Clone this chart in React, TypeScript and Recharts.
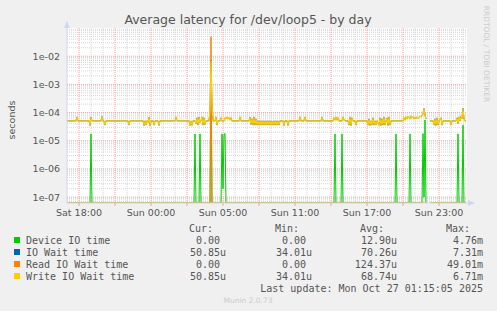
import React from "react";
import { LineChart, Line, XAxis, YAxis, CartesianGrid, ReferenceLine } from "recharts";

// x = 5-minute slot, slot 0 is the left edge of the graph (Sat 17:00), 400 slots wide
const xTickSlots = [12, 48, 84, 120, 156, 192, 228, 264, 300, 336, 372];
const xTickLabels = ["Sat 18:00", "", "Sun 00:00", "", "Sun 05:00", "", "Sun 11:00", "", "Sun 17:00", "", "Sun 23:00"];
const yTicks = [1e-7, 1e-6, 1e-5, 1e-4, 1e-3, 1e-2];
const yDomain = [6.2e-8, 0.1];

const B = 5.09e-5; // steady write wait level

// [slot, seconds]  (null = no data)
const deviceIoTime: [number, number | null][] = [
  [0, 0], [23, 0], [24, 1.75e-5], [25, 0],
  [127, 0], [128, 1.75e-5], [129, 0],
  [132, 0], [133, 1.75e-5], [134, 0],
  [143, 0], [144, 4.76e-3], [145, 0],
  [154, 0], [155, 1.75e-5], [156, 2e-7], [157, 1.7e-5], [158, 1.8e-5], [159, 0],
  [267, 0], [268, 1.75e-5], [269, 0],
  [274, 0], [275, 1.75e-5], [276, 0],
  [328, 0], [329, 1.75e-5], [330, 0],
  [342, 0], [343, 1.75e-5], [344, 0],
  [355, 0], [356, 1.8e-5], [357, 1e-7], [358, 5.5e-5], [359, 0],
  [360, null], [362, null],
  [363, 0], [390, 0], [391, 1.75e-5], [392, 0],
  [395, 0], [396, 3.6e-5], [397, 0], [399, 0],
];

const readIoWaitTime: [number, number | null][] = [
  [0, 0], [143, 0], [144, 4.901e-2], [145, 0], [359, 0],
  [360, null], [362, null],
  [363, 0], [399, 0],
];

const writeIoWaitTime: [number, number | null][] = [
  [0, B], [9, B], [10, 7.0e-5], [11, B],
  [22, B], [23, 3.5e-5], [24, 6.8e-5], [25, B],
  [34, B], [35, 7.2e-5], [36, B], [37, 5.0e-5], [38, 3.6e-5], [39, B],
  [61, B], [62, 3.6e-5], [63, B],
  [76, B], [77, 3.5e-5], [78, B], [79, 3.6e-5], [80, B], [81, 4.5e-5], [82, 6.8e-5], [83, 3.5e-5], [84, B], [86, B], [87, 3.6e-5], [88, B],
  [91, B], [92, 3.5e-5], [93, B],
  [108, B], [109, 6.8e-5], [110, B],
  [122, B], [123, 3.5e-5], [124, 4.8e-5], [125, 3.6e-5], [126, B],
  [128, B], [129, 4.0e-5], [130, 6.5e-5], [131, 3.6e-5], [132, 6.8e-5], [133, 4.5e-5], [134, B], [135, 7.0e-5], [136, 3.6e-5], [137, 6.5e-5], [138, 3.8e-5], [139, B],
  [142, B], [143, 1.2e-4], [144, 6.71e-3], [145, 2.0e-4], [146, B],
  [148, B], [149, 7.0e-5], [150, 3.6e-5], [151, B],
  [153, B], [154, 6.5e-5], [155, B],
  [157, B], [158, 6.5e-5], [159, 6.0e-5], [160, 6.8e-5], [161, 6.0e-5], [162, 6.5e-5], [163, 5.5e-5], [164, 6.5e-5], [165, B],
  [172, B], [173, 6.8e-5], [174, B],
  [182, B], [183, 6.8e-5], [184, 3.8e-5], [185, 6.0e-5], [186, 3.6e-5], [187, 7.0e-5], [188, 3.6e-5], [189, 6.0e-5], [190, 3.6e-5], [191, B], [192, 3.6e-5], [193, B], [194, 3.6e-5], [195, B], [196, 3.6e-5], [197, B], [198, 3.6e-5], [199, B], [200, 3.6e-5], [201, B], [202, 3.6e-5], [203, B], [204, 3.6e-5], [205, 5.0e-5], [206, 3.6e-5], [207, B], [208, 3.6e-5], [209, B], [210, 3.6e-5], [211, B], [212, 3.6e-5], [213, B],
  [216, B], [217, 3.5e-5], [218, B],
  [220, B], [221, 3.5e-5], [222, B],
  [232, B], [233, 6.8e-5], [234, B],
  [237, B], [238, 7.0e-5], [239, B],
  [254, B], [255, 7.0e-5], [256, B],
  [266, B], [267, 6.5e-5], [268, 5.5e-5], [269, 6.8e-5], [270, 5.5e-5], [271, 6.5e-5], [272, B],
  [275, B], [276, 6.8e-5], [277, 5.5e-5], [278, B],
  [281, B], [282, 3.6e-5], [283, 7.0e-5], [284, 3.5e-5], [285, 6.5e-5], [286, B],
  [288, B], [289, 3.6e-5], [290, B],
  [300, B], [301, 3.6e-5], [302, 6.0e-5], [303, 3.5e-5], [304, B], [305, 3.6e-5], [306, 6.5e-5], [307, 3.6e-5], [308, B], [309, 3.6e-5], [310, B], [312, 3.6e-5], [313, 6.5e-5], [314, 3.5e-5], [315, 6.0e-5], [316, 3.6e-5], [317, 7.0e-5], [318, 3.6e-5], [319, B], [320, 6.5e-5], [321, 3.5e-5], [322, 7.0e-5], [323, 3.6e-5], [324, B],
  [336, B], [337, 6.5e-5], [338, 5.5e-5], [339, 7.0e-5], [340, 6.0e-5], [341, 7.2e-5], [342, 6.5e-5], [343, 6.0e-5], [344, 7.5e-5], [345, 6.5e-5], [346, 7.0e-5], [347, 6.0e-5], [348, 6.8e-5], [349, 6.2e-5], [350, 7.0e-5], [351, 6.3e-5], [352, 6.8e-5], [353, 7.5e-5], [354, 7.0e-5], [355, 8.0e-5], [356, 9.0e-5], [357, 1.4e-4], [358, 8.0e-5], [359, 6.0e-5],
  [360, null], [362, null],
  [363, B], [366, B], [367, 3.6e-5], [368, 6.0e-5], [369, 3.5e-5], [370, 6.5e-5], [371, 3.6e-5], [372, B], [374, 6.5e-5], [375, 3.6e-5], [376, B],
  [383, B], [384, 3.6e-5], [385, B],
  [389, B], [390, 6.5e-5], [391, 4.0e-5], [392, 7.0e-5], [393, 5.0e-5], [394, 7.5e-5], [395, 6.0e-5], [396, 1.4e-4], [397, 6.0e-5], [398, B], [399, B],
];

// no reads except at the spike, so total IO wait follows write wait
const ioWaitTime: [number, number | null][] = writeIoWaitTime.map(([s, v]) => [s, s === 144 ? 7.31e-3 : v]);

const legendRows = [
  { name: "Device IO time", color: "#00CC00", cur: "0.00", min: "0.00", avg: "12.90u", max: "4.76m" },
  { name: "IO Wait time", color: "#0066B3", cur: "50.85u", min: "34.01u", avg: "70.26u", max: "7.31m" },
  { name: "Read IO Wait time", color: "#FF8000", cur: "0.00", min: "0.00", avg: "124.37u", max: "49.01m" },
  { name: "Write IO Wait time", color: "#FFCC00", cur: "50.85u", min: "34.01u", avg: "68.74u", max: "6.71m" },
];

// zeros sit on the bottom edge of the log graph, like rrdtool draws them
const toPoints = (rows: [number, number | null][]) =>
  rows.map(([slot, v]) => ({ slot, v: v === null ? null : Math.max(v, yDomain[0]) }));

const majorV = xTickSlots;
const minorV: number[] = [];
for (let s = 12; s < 400; s += 12) if (!majorV.includes(s)) minorV.push(s);
const minorH: number[] = [];
for (let e = -8; e <= -2; e++) for (let m = 2; m <= 9; m++) {
  const v = m * Math.pow(10, e);
  if (v > yDomain[0] && v < yDomain[1]) minorH.push(v);
}

const fmtY = (v: number) => "1e-0" + Math.round(-Math.log10(v));
const FONT = "DejaVu Sans, sans-serif";
const MONO = "DejaVu Sans Mono, monospace";
const TXT = "#555";
const AXIS = "#CFD6F8";
const MGRID = "#EBA7A7";
const GRID = "#D6D6D6";

export default function App() {
  const colEnds = [226, 312, 397, 483];
  const heads = ["Cur:", "Min:", "Avg:", "Max:"];
  const pad = (s: string) => (/[um]$/.test(s) ? s : s + "\u00a0");
  return (
    <div style={{ position: "absolute", left: 0, top: 0, width: 497, height: 311, background: "#F0F0F0" }}>
      <LineChart width={497} height={311} margin={{ top: 28, right: 30, left: 7, bottom: 78 }}>
        <CartesianGrid fill="#FFFFFF" horizontal={false} vertical={false} />
        {minorH.map((v) => (
          <ReferenceLine key={"mh" + v} y={v} stroke={GRID} strokeDasharray="1 1" />
        ))}
        {minorV.map((s) => (
          <ReferenceLine key={"mv" + s} x={s} stroke={GRID} strokeDasharray="1 1" />
        ))}
        {yTicks.map((v) => (
          <ReferenceLine key={"Mh" + v} y={v} stroke={MGRID} strokeDasharray="1 1" />
        ))}
        {majorV.map((s) => (
          <ReferenceLine key={"Mv" + s} x={s} stroke={MGRID} strokeDasharray="1 1" />
        ))}
        <XAxis
          dataKey="slot"
          type="number"
          domain={[0, 400]}
          allowDataOverflow
          ticks={xTickSlots}
          tickFormatter={(v: number) => xTickLabels[xTickSlots.indexOf(v)] ?? ""}
          interval={0}
          height={30}
          stroke={AXIS}
          tickLine={{ stroke: MGRID }}
          tickSize={3}
          tickMargin={3}
          tick={{ fill: TXT, fontSize: 9.5, fontFamily: FONT }}
        />
        <YAxis
          dataKey="v"
          scale="log"
          domain={yDomain}
          allowDataOverflow
          ticks={yTicks}
          tickFormatter={fmtY}
          interval={0}
          width={60}
          stroke={AXIS}
          tickLine={false}
          tickSize={5}
          tickMargin={2}
          tick={{ fill: TXT, fontSize: 9.5, fontFamily: FONT }}
        />
        <Line data={toPoints(deviceIoTime)} dataKey="v" stroke="#00CC00" strokeWidth={1} dot={false} isAnimationActive={false} type="linear" />
        <Line data={toPoints(ioWaitTime)} dataKey="v" stroke="#0066B3" strokeWidth={1} dot={false} isAnimationActive={false} type="linear" />
        <Line data={toPoints(readIoWaitTime)} dataKey="v" stroke="#FF8000" strokeWidth={1} dot={false} isAnimationActive={false} type="linear" />
        <Line data={toPoints(writeIoWaitTime)} dataKey="v" stroke="#FFCC00" strokeWidth={1.2} dot={false} isAnimationActive={false} type="linear" />
      </LineChart>
      <svg width={497} height={311} style={{ position: "absolute", left: 0, top: 0, pointerEvents: "none" }}>
        <polygon points="64,28 70,28 67,21" fill={AXIS} />
        <line x1={467} y1={203} x2={470} y2={203} stroke={AXIS} />
        <polygon points="468,200 468,206 475,203" fill={AXIS} />
        <text x={248} y={19} textAnchor="middle" dominantBaseline="central" fill={TXT} fontSize={12.5} fontFamily={FONT}>
          Average latency for /dev/loop5 - by day
        </text>
        <text x={11} y={120} textAnchor="middle" dominantBaseline="central" fill={TXT} fontSize={9.5} fontFamily={FONT} transform="rotate(-90 11 120)">
          seconds
        </text>
        <text x={486} y={54} textAnchor="middle" dominantBaseline="central" fill="#CCCCCC" fontSize={7.5} fontFamily={FONT} transform="rotate(90 486 54)">
          RRDTOOL / TOBI OETIKER
        </text>
        {heads.map((h, i) => (
          <text key={h} x={colEnds[i] - 13} y={228} textAnchor="end" dominantBaseline="central" fill={TXT} fontSize={10} fontFamily={MONO}>
            {h}
          </text>
        ))}
        {legendRows.map((r, i) => {
          const y = 240 + i * 12;
          return (
            <g key={r.name}>
              <rect x={14} y={y - 3} width={6} height={6} fill={r.color} />
              <text x={26} y={y} dominantBaseline="central" fill={TXT} fontSize={10} fontFamily={MONO}>
                {r.name}
              </text>
              {[r.cur, r.min, r.avg, r.max].map((v, j) => (
                <text key={j} x={colEnds[j]} y={y} textAnchor="end" dominantBaseline="central" fill={TXT} fontSize={10} fontFamily={MONO}>
                  {pad(v)}
                </text>
              ))}
            </g>
          );
        })}
        <text x={483} y={288} textAnchor="end" dominantBaseline="central" fill={TXT} fontSize={10} fontFamily={MONO}>
          Last update: Mon Oct 27 01:15:05 2025
        </text>
        <text x={248} y={300} textAnchor="middle" dominantBaseline="central" fill="#CCCCCC" fontSize={7.5} fontFamily={FONT}>
          Munin 2.0.73
        </text>
      </svg>
    </div>
  );
}
